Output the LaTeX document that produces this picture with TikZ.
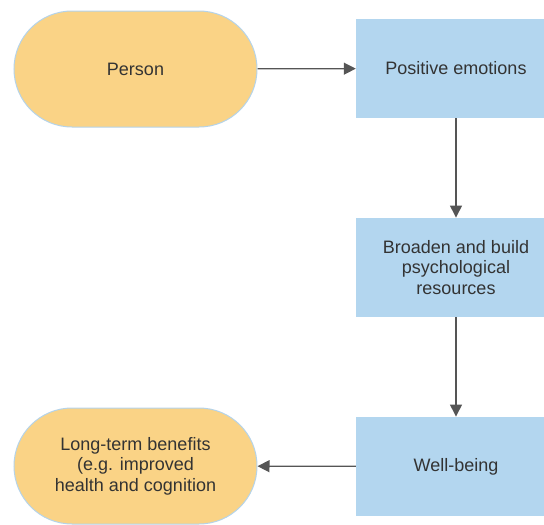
\documentclass[tikz,border=0pt]{standalone}
\usepackage{fontspec}
\setmainfont{Liberation Sans}
\usetikzlibrary{arrows.meta}
\definecolor{pillfill}{HTML}{FAD386}
\definecolor{pillline}{HTML}{B4D3EA}
\definecolor{boxfill}{HTML}{B3D6EF}
\definecolor{txt}{HTML}{333333}
\definecolor{conn}{HTML}{555555}
\tikzset{
  pill/.style={draw=pillline, line width=1pt, fill=pillfill, rounded corners=58pt,
    minimum width=243pt, minimum height=116pt, inner sep=0pt, align=center,
    text=txt, font=\fontsize{18}{20.5}\selectfont},
  stepbox/.style={fill=boxfill, minimum width=200pt, minimum height=99.5pt,
    inner sep=0pt, align=center, text=txt, font=\fontsize{18}{20.5}\selectfont},
  conn/.style={draw=conn, line width=1.3pt, -{Triangle[length=12pt,width=12pt]}}
}
\begin{document}
\begin{tikzpicture}[x=1pt,y=-1pt]
\useasboundingbox (0,0) rectangle (544,525);
\clip (0,0) rectangle (544,525);
\node[pill] (person) at (135.5,69) {Person};
\node[stepbox] (pos) at (456,68.5) {Positive emotions};
\node[stepbox] (broaden) at (456,267.5) {Broaden and build\\psychological\\resources};
\node[stepbox] (well) at (456,466.5) {Well-being};
\node[pill] (long) at (135.5,466) {Long-term benefits\\(e.g. improved\\health and cognition};
\draw[conn] (person) -- (pos);
\draw[conn] (pos) -- (broaden);
\draw[conn] (broaden) -- (well);
\draw[conn] (well) -- (long);
\end{tikzpicture}
\end{document}
